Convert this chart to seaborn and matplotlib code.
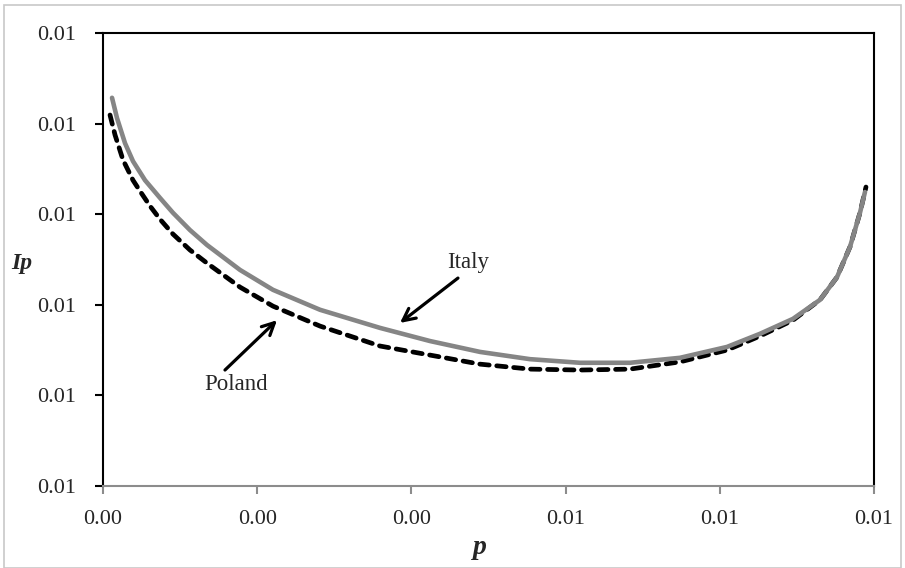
import numpy as np
import pandas as pd
import matplotlib
matplotlib.use("Agg")
import matplotlib.pyplot as plt
import seaborn as sns
from matplotlib.patches import Rectangle
from matplotlib.ticker import FormatStrFormatter

# ---- data ----
italy_p = [0.000117, 0.000182, 0.000285, 0.000389, 0.000545, 0.000739, 0.000908, 0.001128,
           0.001349, 0.001777, 0.002205, 0.002815, 0.003593, 0.004241, 0.004890, 0.005538,
           0.006187, 0.006835, 0.007484, 0.008093, 0.008521, 0.008949, 0.009300, 0.009520,
           0.009689, 0.009818, 0.009883]
italy_ip = [0.010357, 0.010312, 0.010257, 0.010217, 0.010175, 0.010136, 0.010103, 0.010065,
            0.010032, 0.009977, 0.009933, 0.009889, 0.009849, 0.009820, 0.009796, 0.009780,
            0.009772, 0.009772, 0.009783, 0.009807, 0.009836, 0.009869, 0.009911, 0.009961,
            0.010028, 0.010103, 0.010149]

poland_p = [0.000091, 0.000156, 0.000259, 0.000389, 0.000480, 0.000610, 0.000739, 0.000908,
            0.001128, 0.001349, 0.001777, 0.002205, 0.002815, 0.003593, 0.004241, 0.004890,
            0.005538, 0.006187, 0.006835, 0.007484, 0.008093, 0.008521, 0.008949, 0.009300,
            0.009520, 0.009689, 0.009818, 0.009896]
poland_ip = [0.010319, 0.010275, 0.010220, 0.010175, 0.010151, 0.010118, 0.010089, 0.010056,
             0.010021, 0.009992, 0.009939, 0.009897, 0.009853, 0.009809, 0.009789, 0.009769,
             0.009758, 0.009756, 0.009758, 0.009774, 0.009800, 0.009831, 0.009866, 0.009911,
             0.009961, 0.010028, 0.010103, 0.010160]

x_ticks = [0.0, 0.002, 0.004, 0.006, 0.008, 0.010]
y_ticks = [0.0095, 0.0097, 0.0099, 0.0101, 0.0103, 0.0105]

df_it = pd.DataFrame({"p": italy_p, "Ip": italy_ip})
df_pl = pd.DataFrame({"p": poland_p, "Ip": poland_ip})

sns.set_style("white")
plt.rcParams["font.family"] = ["Liberation Serif", "DejaVu Serif"]

fig = plt.figure(figsize=(9.05, 5.68), dpi=100)
ax = fig.add_axes([103 / 905, 1 - 486 / 568, 771 / 905, 453 / 568])

sns.lineplot(data=df_pl, x="p", y="Ip", ax=ax, color="black", lw=3.4,
             sort=False, estimator=None)
ax.lines[-1].set_dashes((2.0, 1.6))
ax.lines[-1].set_dash_capstyle("round")
ax.lines[-1].set_dash_joinstyle("round")
sns.lineplot(data=df_it, x="p", y="Ip", ax=ax, color="#858585", lw=3.3,
             sort=False, estimator=None)
ax.lines[-1].set_solid_capstyle("round")
ax.lines[-1].set_solid_joinstyle("round")

ax.set_xlim(x_ticks[0], x_ticks[-1])
ax.set_ylim(y_ticks[0], y_ticks[-1])
ax.set_xticks(x_ticks)
ax.set_yticks(y_ticks)
ax.xaxis.set_major_formatter(FormatStrFormatter("%.2f"))
ax.yaxis.set_major_formatter(FormatStrFormatter("%.2f"))
ax.set_xlabel("")
ax.set_ylabel("")

for s in ["left", "top", "right"]:
    ax.spines[s].set_color("black")
    ax.spines[s].set_linewidth(1.5)
ax.spines["bottom"].set_color("#8c8c8c")
ax.spines["bottom"].set_linewidth(1.5)

ax.tick_params(axis="y", which="major", left=True, length=6, width=1.5,
               color="black", labelsize=16, pad=13)
ax.tick_params(axis="x", which="major", bottom=True, length=6, width=1.5,
               color="#8c8c8c", labelsize=16, pad=11)
ax.grid(False)

# annotations
ax.annotate("", xy=(0.003852, 0.009860), xytext=(0.004604, 0.009959),
            xycoords="data", textcoords="data",
            arrowprops=dict(arrowstyle="->", color="black", lw=2.3, mutation_scale=22,
                            shrinkA=0, shrinkB=0))
ax.text(0.004734, 0.009994, "Italy", ha="center", va="center", fontsize=16.5)

ax.annotate("", xy=(0.002257, 0.009866), xytext=(0.001582, 0.009756),
            xycoords="data", textcoords="data",
            arrowprops=dict(arrowstyle="->", color="black", lw=2.3, mutation_scale=22,
                            shrinkA=0, shrinkB=0))
ax.text(0.001725, 0.009723, "Poland", ha="center", va="center", fontsize=16.5)

# axis labels
fig.text(480 / 905, 1 - 548 / 568, "p", ha="center", va="center",
         fontsize=20, fontweight="bold", fontstyle="italic")
fig.text(22 / 905, 1 - 263 / 568, "Ip", ha="center", va="center",
         fontsize=17, fontweight="bold", fontstyle="italic")

# outer border
fig.patches.append(Rectangle((4 / 905, 0.5 / 568), 897 / 905, 563 / 568,
                             transform=fig.transFigure, fill=False,
                             edgecolor="#c8c8c8", lw=1.2))

fig.savefig("out.png", dpi=100)
